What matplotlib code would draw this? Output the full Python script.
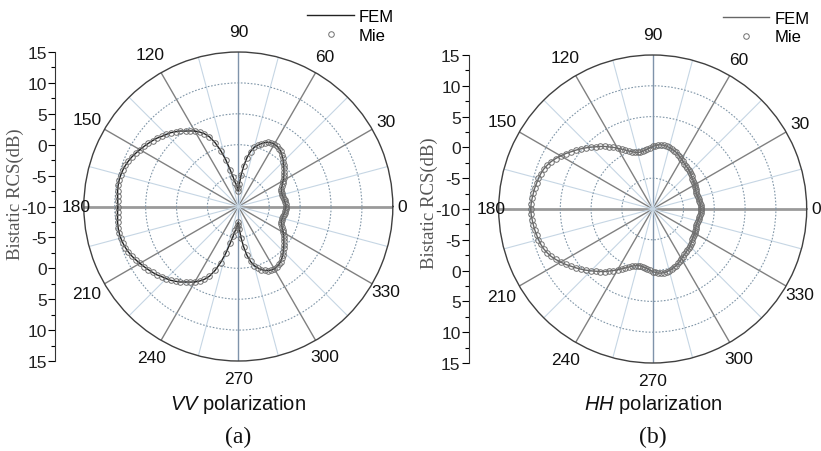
import numpy as np
import matplotlib
matplotlib.use("Agg")
import matplotlib.pyplot as plt
from matplotlib.ticker import FixedLocator, MultipleLocator

plt.rcParams['font.family'] = ['Liberation Sans', 'DejaVu Sans']
plt.rcParams['mathtext.fontset'] = 'custom'
plt.rcParams['mathtext.it'] = 'Liberation Sans:italic'
plt.rcParams['mathtext.rm'] = 'Liberation Sans'

# scattering angle (deg), 0..180, pattern is symmetric about 0-180
angles_half = np.arange(0, 180.1, 2.5)

# bistatic RCS in dB (0..180 deg)
vv_db = [-2.3, -2.35, -2.4, -2.45, -2.55, -2.6, -2.65, -2.65, -2.6, -2.45,
         -2.2, -1.9, -1.6, -1.3, -1.0, -0.7, -0.4, -0.05, 0.3, 0.65,
         0.95, 1.25, 1.45, 1.6, 1.65, 1.6, 1.45, 1.2, 0.85, 0.4,
         -0.1, -0.9, -2.0, -3.4, -4.9, -6.4, -7.5, -7.0, -6.6, -6.1,
         -5.2, -3.9, -2.2, -0.5, 1.0, 2.2, 3.0, 3.6, 4.1, 4.5,
         4.9, 5.4, 5.8, 6.2, 6.5, 6.8, 7.2, 7.5, 7.8, 8.1,
         8.4, 8.7, 9.0, 9.25, 9.45, 9.6, 9.7, 9.75, 9.75, 9.7,
         9.6, 9.55, 9.5]

hh_db = [-2.2, -2.2, -2.2, -2.25, -2.3, -2.35, -2.4, -2.45, -2.45, -2.4,
         -2.3, -2.2, -2.1, -2.05, -2.0, -1.9, -1.75, -1.6, -1.45, -1.35,
         -1.25, -1.15, -1.0, -0.85, -0.65, -0.45, -0.25, -0.05, 0.1, 0.25,
         0.35, 0.45, 0.5, 0.5, 0.45, 0.3, 0.15, -0.05, -0.25, -0.4,
         -0.5, -0.55, -0.5, -0.35, -0.1, 0.2, 0.55, 0.95, 1.4, 1.85,
         2.3, 2.8, 3.25, 3.7, 4.2, 4.7, 5.2, 5.7, 6.2, 6.75,
         7.25, 7.75, 8.2, 8.55, 8.85, 9.05, 9.2, 9.3, 9.45, 9.55,
         9.65, 9.75, 9.8]

label_angles = [0, 30, 60, 90, 120, 150, 180, 210, 240, 270, 300, 330]
angle_labels = ['0', '30', '60', '90', '120', '150', '180', '210', '240', '270', '300', '330']
radial_labels = ['15', '10', '5', '0', '-5', '-10', '-5', '0', '5', '10', '15']

# how far outside the rim each angle label sits (in dB units of the radial axis)
label_r = [16.5, 17.6, 18.1, 18.4, 18.4, 18.3, 16.3, 18.3, 18.2, 17.9, 18.1, 17.6]


def full_circle(vals):
    vals = np.asarray(vals)
    th = np.concatenate([angles_half, 360 - angles_half[-2::-1]])
    r = np.concatenate([vals, vals[-2::-1]])
    return np.deg2rad(th), r


fig = plt.figure(figsize=(8.21, 4.52), dpi=100)


def polar_panel(rect, axrect, vals, pol, tag, legend_pos, fem_color, ylab_y):
    ax = fig.add_axes(rect, projection='polar')
    th, r = full_circle(vals)
    ax.plot(th, r, color=fem_color, lw=1.0, label='FEM', zorder=4)
    ax.plot(th, r, ls='none', marker='o', ms=4, mfc='none', mec='#707070',
            mew=0.7, label='Mie', zorder=5)
    ax.set_ylim(-10, 15)
    ax.set_yticks([-5, 0, 5, 10])
    ax.set_yticklabels([])
    ax.set_xticks(np.deg2rad(label_angles))
    ax.set_xticklabels([])
    ax.xaxis.set_minor_locator(FixedLocator(np.deg2rad(np.arange(15, 360, 30))))
    ax.grid(True, which='major', axis='x', color='#808080', lw=1.0, ls='-')
    ax.grid(True, which='minor', axis='x', color='#c6d6e4', lw=0.8, ls='-')
    ax.grid(True, which='major', axis='y', color='#8096a8', lw=0.8, ls=(0, (1.5, 1.5)))
    gl = ax.xaxis.get_gridlines()
    for i in (0, 6):
        gl[i].set_color('#9a9a9a')
        gl[i].set_linewidth(2.0)
    for i in (3, 9):
        gl[i].set_color('#7f93aa')
    ax.spines['polar'].set_color('#404040')
    ax.spines['polar'].set_linewidth(1.0)
    for a, lab, rr in zip(label_angles, angle_labels, label_r):
        ax.text(np.deg2rad(a), rr, lab, ha='center', va='center', fontsize=12.5,
                color='#111111', clip_on=False)
    ax.legend(loc='upper right', bbox_to_anchor=legend_pos, bbox_transform=fig.transFigure,
              frameon=False, fontsize=12, handlelength=2.8, handletextpad=0.3,
              labelspacing=0.2, borderaxespad=0)

    # linear radial scale on the left
    lax = fig.add_axes(axrect)
    lax.set_ylim(-25, 25)
    lax.set_yticks(np.arange(-25, 26, 5))
    lax.set_yticklabels(radial_labels, fontsize=12.5, color='#222222')
    lax.yaxis.set_minor_locator(MultipleLocator(2.5))
    lax.tick_params(axis='y', which='major', length=5, width=0.8, pad=1)
    lax.tick_params(axis='y', which='minor', length=3, width=0.8)
    lax.set_xticks([])
    for s in ('top', 'right', 'bottom'):
        lax.spines[s].set_visible(False)
    lax.spines['left'].set_color('#333333')
    lax.spines['left'].set_linewidth(0.8)

    cx = rect[0] + rect[2] / 2
    fig.text(axrect[0] - 0.048, 1 - ylab_y / 452, 'Bistatic RCS(dB)', rotation=90,
             ha='center', va='center', family='Liberation Serif', fontsize=13.5,
             color='#555555')
    fig.text(cx, 1 - 405 / 452, r'$\mathit{%s}$ polarization' % pol, ha='center',
             va='center', fontsize=14.5, color='#111111')
    fig.text(cx, 1 - 437 / 452, tag, ha='center', va='center',
             family='Liberation Serif', fontsize=17, color='#111111')
    return ax


polar_panel([0.1021, 0.1991, 0.3764, 0.6836], [0.067, 0.1991, 0.001, 0.6836],
            vv_db, 'VV', '(a)', (0.488, 0.992), '#222222', 194)
polar_panel([0.6074, 0.1947, 0.3752, 0.6814], [0.5712, 0.1947, 0.001, 0.6814],
            hh_db, 'HH', '(b)', (0.994, 0.988), '#666666', 203)

fig.savefig('out.png', dpi=100)
